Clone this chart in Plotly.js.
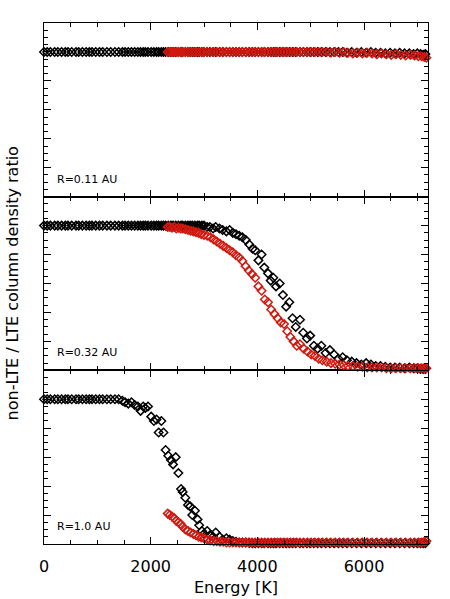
<!DOCTYPE html>
<html>
<head>
<meta charset="utf-8">
<script src="https://cdn.plot.ly/plotly-3.0.1.min.js"></script>
<style>
  html, body { margin: 0; padding: 0; background: #fff; }
  #plotRatio { width: 450px; height: 599px; }
</style>
</head>
<body>
<div id="plotRatio"></div>
<script>
// Level energies (K), black = all levels, red = levels above ~2300 K
var blackEnergy = [
  0, 60, 120, 200, 260, 330, 400, 450, 520, 600,
  650, 720, 790, 850, 900, 970, 1040, 1100, 1180, 1250,
  1330, 1400, 1470, 1520, 1580, 1640, 1700, 1760, 1810, 1860,
  1900, 1950, 2010, 2060, 2110, 2150, 2200, 2240, 2280,
  2330, 2380, 2420, 2470, 2520, 2570, 2600, 2650, 2700, 2740,
  2780, 2830, 2880, 2910, 2960, 3000, 3060, 3110, 3170, 3220,
  3290, 3350, 3420, 3480, 3540, 3600, 3660, 3720, 3785, 3850,
  3910, 3960, 4020, 4080, 4130, 4200, 4250, 4300, 4350, 4420,
  4480, 4540, 4600, 4660, 4720, 4800, 4860, 4930, 4990, 5060,
  5130, 5200, 5280, 5360, 5440, 5520, 5600, 5680, 5770, 5860,
  5950, 6040, 6130, 6220, 6310, 6400, 6490, 6580, 6670, 6760,
  6850, 6930, 7000, 7060, 7110, 7150
];

var redEnergy = [
  2320, 2360, 2400, 2440, 2480, 2520, 2560, 2600, 2650, 2700,
  2750, 2800, 2850, 2900, 2950, 3000, 3060, 3120, 3180, 3240,
  3300, 3360, 3420, 3480, 3540, 3600, 3660, 3720, 3780, 3840,
  3900, 3960, 4020, 4080, 4140, 4200, 4260, 4320, 4380, 4440,
  4500, 4560, 4620, 4680, 4740, 4800, 4870, 4940, 5010, 5080,
  5150, 5220, 5300, 5380, 5460, 5540, 5620, 5700, 5790, 5880,
  5970, 6060, 6150, 6240, 6330, 6420, 6510, 6600, 6690, 6780,
  6870, 6950, 7020, 7080, 7130, 7170
];

// R = 0.11 AU
var blackTop = [
  1, 1, 1, 1, 1, 1, 1, 1, 1, 1,
  1, 1, 1, 1, 1, 1, 1, 1, 1, 1,
  1, 1, 1, 1, 1, 1, 1, 1, 1, 1,
  1, 1, 1, 1, 1, 1, 1, 1, 1,
  1, 1, 1, 1, 1, 1, 1, 1, 1, 1,
  1, 1, 1, 1, 1, 1, 1, 1, 1, 1,
  1, 1, 1, 1, 1, 1, 1, 1, 1, 1,
  1, 1, 1, 1, 1, 1, 1, 1, 1, 1,
  1, 1, 1, 1, 1, 1, 1, 1, 1, 1,
  1, 1, 1, 1, 1, 1, 1, 0.995, 1, 0.995,
  1, 0.995, 1, 0.995, 0.995, 0.99, 0.995, 0.99, 0.995, 0.99,
  0.99, 0.985, 0.99, 0.985, 0.98, 0.985
];
var redTop = [
  1, 1, 1, 1, 1, 1, 1, 1, 1, 1,
  1, 1, 1, 1, 1, 1, 1, 1, 1, 1,
  1, 1, 1, 1, 1, 1, 1, 1, 1, 1,
  1, 1, 1, 1, 1, 1, 1, 1, 1, 1,
  1, 1, 1, 1, 1, 1, 1, 1, 1, 1,
  1, 1, 1, 0.995, 1, 0.995, 1, 0.995, 0.99, 0.995,
  0.99, 0.995, 0.99, 0.985, 0.99, 0.985, 0.98, 0.985, 0.98, 0.975,
  0.98, 0.975, 0.97, 0.97, 0.965, 0.96
];

// R = 0.32 AU
var blackMid = [
  1, 1, 1, 1, 1, 1, 1, 1, 1, 1,
  1, 1, 1, 1, 1, 1, 1, 1, 1, 1,
  1, 1, 1, 1, 1, 1, 1, 1, 1, 1,
  1, 1, 1, 1, 1, 1, 1, 1, 1,
  1, 1, 1, 1, 1, 1, 1, 1, 1, 1,
  1, 1, 1, 1, 1, 1, 0.99, 0.99, 0.98, 0.99,
  0.98, 0.97, 0.96, 0.97, 0.95, 0.94, 0.93, 0.92, 0.9, 0.87,
  0.84, 0.83, 0.76, 0.8, 0.71, 0.67, 0.62, 0.64, 0.58, 0.6,
  0.52, 0.44, 0.47, 0.36, 0.3, 0.35, 0.26, 0.22, 0.24, 0.17,
  0.15, 0.17, 0.12, 0.14, 0.11, 0.08, 0.09, 0.07, 0.06, 0.05,
  0.04, 0.05, 0.04, 0.03, 0.03, 0.025, 0.02, 0.02, 0.02, 0.015,
  0.02, 0.015, 0.015, 0.01, 0.01, 0.01
];
var redMid = [
  0.99, 0.99, 0.985, 0.99, 0.98, 0.985, 0.98, 0.98, 0.975, 0.97,
  0.965, 0.96, 0.955, 0.95, 0.94, 0.935, 0.93, 0.92, 0.905, 0.89,
  0.875, 0.86, 0.845, 0.83, 0.815, 0.795, 0.78, 0.755, 0.72, 0.69,
  0.665, 0.64, 0.58, 0.55, 0.49, 0.47, 0.42, 0.39, 0.36, 0.33,
  0.32, 0.27, 0.23, 0.2, 0.17, 0.18, 0.15, 0.13, 0.11, 0.1,
  0.08, 0.07, 0.06, 0.05, 0.045, 0.04, 0.035, 0.03, 0.03, 0.025,
  0.025, 0.02, 0.02, 0.02, 0.02, 0.015, 0.015, 0.015, 0.015, 0.015,
  0.015, 0.015, 0.015, 0.015, 0.015, 0.015
];

// R = 1.0 AU
var blackBot = [
  1, 1, 1, 1, 1, 1, 1, 1, 1, 1,
  1, 1, 1, 1, 1, 1, 1, 1, 1, 1,
  1, 1, 0.99, 0.98, 0.97, 0.98, 0.96, 0.95, 0.92, 0.95,
  0.94, 0.95, 0.88, 0.85, 0.86, 0.77, 0.85, 0.77, 0.65,
  0.61, 0.58, 0.55, 0.6, 0.49, 0.38, 0.36, 0.32, 0.27, 0.26,
  0.2, 0.23, 0.17, 0.13, 0.09, 0.07, 0.09, 0.06, 0.05, 0.08,
  0.05, 0.03, 0.04, 0.03, 0.02, 0.015, 0.01, 0.01, 0.01, 0.008,
  0.005, 0.005, 0.005, 0.005, 0.005, 0.005, 0.005, 0.005, 0.005, 0.005,
  0.005, 0.005, 0.005, 0.005, 0.005, 0.005, 0.005, 0.005, 0.005, 0.005,
  0.005, 0.005, 0.005, 0.005, 0.005, 0.005, 0.005, 0.005, 0.005, 0.005,
  0.005, 0.005, 0.005, 0.005, 0.005, 0.005, 0.005, 0.005, 0.005, 0.005,
  0.005, 0.005, 0.005, 0.005, 0.005, 0.005
];
var redBot = [
  0.21, 0.2, 0.19, 0.18, 0.16, 0.15, 0.14, 0.12, 0.1, 0.09,
  0.08, 0.07, 0.06, 0.05, 0.045, 0.04, 0.03, 0.025, 0.02, 0.02,
  0.015, 0.015, 0.01, 0.01, 0.01, 0.01, 0.01, 0.01, 0.01, 0.01,
  0.01, 0.01, 0.01, 0.01, 0.01, 0.01, 0.01, 0.01, 0.01, 0.01,
  0.01, 0.01, 0.01, 0.01, 0.01, 0.01, 0.01, 0.01, 0.01, 0.01,
  0.01, 0.01, 0.01, 0.01, 0.01, 0.01, 0.01, 0.01, 0.01, 0.01,
  0.01, 0.01, 0.01, 0.01, 0.01, 0.01, 0.01, 0.01, 0.01, 0.01,
  0.01, 0.01, 0.01, 0.01, 0.015, 0.02
];

var panelLabels = ['R=1.0 AU', 'R=0.32 AU', 'R=0.11 AU'];

function drawRatio(plotDiv) {
  var black = 'rgb(0,0,0)';
  var red = 'rgb(210,25,15)';
  var font = 'DejaVu Sans, sans-serif';

  function pts(x, y, color, n) {
    return {
      x: x,
      y: y,
      type: 'scatter',
      mode: 'markers',
      xaxis: n == 1 ? 'x' : 'x' + n,
      yaxis: n == 1 ? 'y' : 'y' + n,
      cliponaxis: false,
      marker: {
        symbol: 'diamond-open',
        size: 6.5,
        color: color,
        line: { color: color, width: 1.5 }
      },
      hoverinfo: 'skip'
    };
  }

  var data = [
    pts(blackEnergy, blackBot, black, 1),
    pts(redEnergy, redBot, red, 1),
    pts(blackEnergy, blackMid, black, 2),
    pts(redEnergy, redMid, red, 2),
    pts(blackEnergy, blackTop, black, 3),
    pts(redEnergy, redTop, red, 3)
  ];

  function xAxis(anchor, labels) {
    return {
      anchor: anchor,
      range: [0, 7200],
      tick0: 0,
      dtick: 2000,
      ticks: 'inside',
      ticklen: 7,
      tickcolor: 'black',
      tickwidth: 1,
      showline: true,
      linecolor: 'black',
      linewidth: 1,
      mirror: 'allticks',
      showgrid: false,
      zeroline: false,
      showticklabels: labels,
      ticklabelstandoff: 8,
      tickfont: { family: font, size: 16, color: 'black' },
      minor: { dtick: 500, ticks: 'inside', ticklen: 4, tickcolor: 'black', showgrid: false }
    };
  }

  function yAxis(anchor, domain) {
    return {
      anchor: anchor,
      domain: domain,
      range: [0, 1.2],
      tick0: 0,
      dtick: 0.2,
      ticks: 'inside',
      ticklen: 7,
      tickcolor: 'black',
      showline: true,
      linecolor: 'black',
      linewidth: 1,
      mirror: 'allticks',
      showgrid: false,
      zeroline: false,
      showticklabels: false,
      minor: { dtick: 0.05, ticks: 'inside', ticklen: 4, tickcolor: 'black', showgrid: false }
    };
  }

  var xa = xAxis('y', true);
  xa.title = { text: 'Energy [K]', font: { family: font, size: 16, color: 'black' }, standoff: 6 };

  var layout = {
    width: 450,
    height: 599,
    showlegend: false,
    paper_bgcolor: 'white',
    plot_bgcolor: 'white',
    margin: { l: 44, r: 22, t: 23, b: 55 },
    font: { family: font, color: 'black' },
    xaxis: xa,
    xaxis2: xAxis('y2', false),
    xaxis3: xAxis('y3', false),
    yaxis: yAxis('x', [0, 1 / 3]),
    yaxis2: yAxis('x2', [1 / 3, 2 / 3]),
    yaxis3: yAxis('x3', [2 / 3, 1]),
    annotations: [
      {
        xref: 'paper',
        yref: 'paper',
        x: -0.081,
        y: 0.5,
        xanchor: 'center',
        yanchor: 'middle',
        textangle: -90,
        text: 'non-LTE / LTE column density ratio',
        showarrow: false,
        font: { family: font, size: 16, color: 'black' }
      }
    ]
  };

  for (var i = 0; i < panelLabels.length; i++) {
    layout.annotations.push({
      xref: i == 0 ? 'x' : 'x' + (i + 1),
      yref: i == 0 ? 'y' : 'y' + (i + 1),
      x: 200,
      y: 0.12,
      xanchor: 'left',
      yanchor: 'middle',
      text: panelLabels[i],
      showarrow: false,
      font: { family: font, size: 11, color: 'black' }
    });
  }

  Plotly.newPlot(plotDiv, data, layout, { staticPlot: true });
}

drawRatio(document.getElementById('plotRatio'));
</script>
</body>
</html>
